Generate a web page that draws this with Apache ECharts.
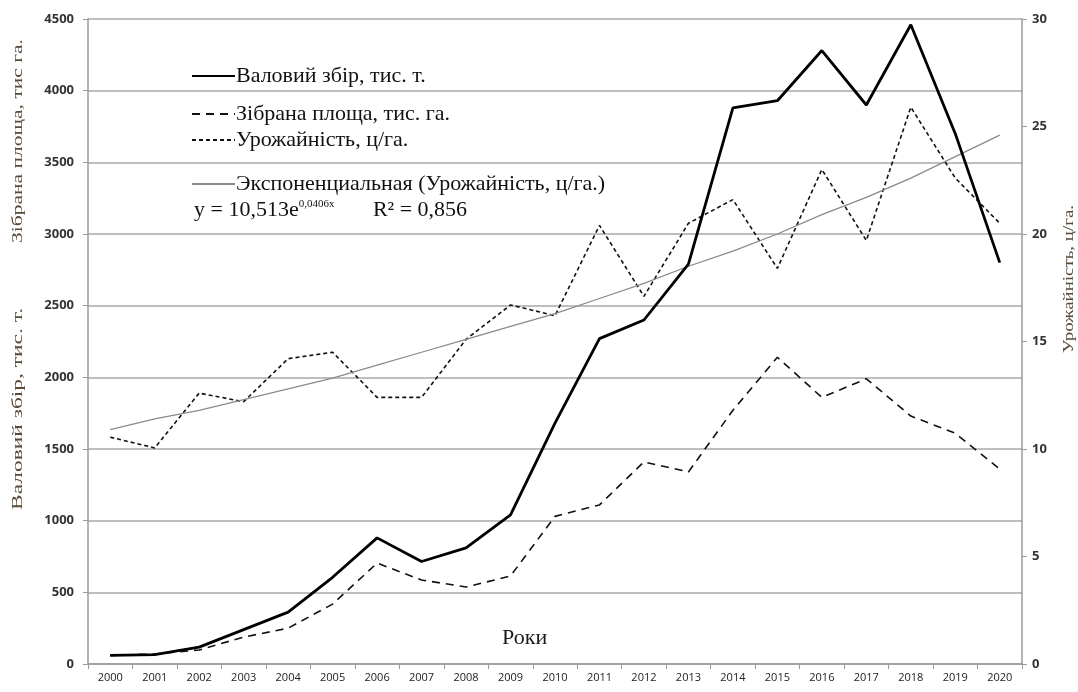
<!DOCTYPE html>
<html>
<head>
<meta charset="utf-8">
<script src="https://cdn.jsdelivr.net/npm/echarts@6/dist/echarts.min.js"></script>
<style>
  html, body { margin: 0; padding: 0; background: #fff; }
  #chart { width: 1078px; height: 692px; }
</style>
</head>
<body>
<div id="chart"></div>
<script>
// роки
var years = ['2000','2001','2002','2003','2004','2005','2006','2007','2008','2009','2010',
  '2011','2012','2013','2014','2015','2016','2017','2018','2019','2020'];
// валовий збір, тис. т.
var gross = [60, 65, 118, 240, 362, 605, 880, 715, 810, 1040, 1680,
  2270, 2400, 2790, 3880, 3930, 4280, 3900, 4460, 3700, 2800];
// зібрана площа, тис. га.
var area = [60, 70, 98, 188, 250, 418, 704, 586, 537, 614, 1030,
  1110, 1410, 1340, 1770, 2140, 1860, 1990, 1730, 1610, 1360];
// урожайність, ц/га.
var yieldV = [10.55, 10.05, 12.6, 12.2, 14.2, 14.5, 12.4, 12.4, 15.1, 16.7, 16.2,
  20.4, 17.1, 20.5, 21.6, 18.4, 23.0, 19.7, 25.9, 22.6, 20.5];
// експоненціальний тренд
var trend = [10.9, 11.4, 11.8, 12.3, 12.8, 13.3, 13.9, 14.5, 15.1, 15.7, 16.3,
  17.0, 17.7, 18.5, 19.2, 20.0, 20.9, 21.7, 22.6, 23.6, 24.6];
var leftTicks = [0, 4500, 500];
var rightTicks = [0, 30, 5];

var serif = '"Liberation Serif", "DejaVu Serif", serif';
var sans = '"Open Sans", "Liberation Sans", sans-serif';

var chart = echarts.init(document.getElementById('chart'));

// розтягнути підпис осі до потрібної довжини
var ctx = document.createElement('canvas').getContext('2d');
function stretch(text, size, target) {
  ctx.font = size + 'px "Liberation Serif"';
  return target / ctx.measureText(text).width;
}

function legendAt(name, top) {
  return {
    data: [name],
    left: 186,
    top: top,
    itemWidth: 43,
    itemHeight: 12,
    itemGap: 2,
    itemStyle: { color: 'rgba(0,0,0,0)', borderWidth: 0 },
    textStyle: { fontFamily: serif, fontSize: 22, color: '#111', padding: [0, 0, 0, -4] },
    selectedMode: false
  };
}

function axisTitle(text, x, y, len) {
  return {
    type: 'text', x: x, y: y, rotation: Math.PI / 2,
    scaleX: stretch(text, 14, len),
    style: { text: text, fontFamily: serif, fontSize: 14, fill: '#5a4a3a', align: 'center', verticalAlign: 'top' }
  };
}

chart.setOption({
  animation: false,
  backgroundColor: '#fff',
  //позиція сітки
  grid: { left: 88, right: 56, top: 19, bottom: 28 },
  legend: [
    legendAt('Валовий збір, тис. т.', 60),
    legendAt('Зібрана площа, тис. га.', 98),
    legendAt('Урожайність, ц/га.', 124),
    legendAt('Экспоненциальная (Урожайність, ц/га.)', 168)
  ],
  xAxis: {
    type: 'category',
    data: years,
    boundaryGap: true,
    axisLine: { lineStyle: { color: '#9a9a9a', width: 1.5 } },
    axisTick: { show: true, length: 5, lineStyle: { color: '#9a9a9a' } },
    axisLabel: { fontFamily: sans, fontSize: 11, color: '#222', margin: 8, interval: 0 }
  },
  yAxis: [
    {
      type: 'value',
      min: leftTicks[0], max: leftTicks[1], interval: leftTicks[2],
      axisLine: { show: true, lineStyle: { color: '#9a9a9a', width: 1.5 } },
      axisTick: { show: true, length: 5, lineStyle: { color: '#9a9a9a' } },
      axisLabel: { fontFamily: sans, fontSize: 13, fontWeight: 'bold', color: '#333', margin: 14,
        formatter: function (v) { return String(v); } },
      splitLine: { lineStyle: { color: '#a8a8a8', width: 1.5 } }
    },
    {
      type: 'value',
      position: 'right',
      min: rightTicks[0], max: rightTicks[1], interval: rightTicks[2],
      axisLine: { show: true, lineStyle: { color: '#9a9a9a', width: 1.5 } },
      axisTick: { show: true, length: 5, lineStyle: { color: '#9a9a9a' } },
      axisLabel: { fontFamily: sans, fontSize: 13, fontWeight: 'bold', color: '#333', margin: 10 },
      splitLine: { show: false }
    }
  ],
  series: [
    {
      name: 'Валовий збір, тис. т.',
      type: 'line',
      data: gross,
      yAxisIndex: 0,
      symbol: 'none',
      z: 5,
      lineStyle: { color: '#000', width: 2.8 },
      itemStyle: { color: '#000' }
    },
    {
      name: 'Зібрана площа, тис. га.',
      type: 'line',
      data: area,
      yAxisIndex: 0,
      symbol: 'none',
      lineStyle: { color: '#111', width: 1.6, type: [8, 6] },
      itemStyle: { color: '#111' }
    },
    {
      name: 'Урожайність, ц/га.',
      type: 'line',
      data: yieldV,
      yAxisIndex: 1,
      symbol: 'none',
      lineStyle: { color: '#111', width: 1.6, type: [4, 3] },
      itemStyle: { color: '#111' }
    },
    {
      name: 'Экспоненциальная (Урожайність, ц/га.)',
      type: 'line',
      data: trend,
      yAxisIndex: 1,
      symbol: 'none',
      lineStyle: { color: '#8a8a8a', width: 1.3 },
      itemStyle: { color: '#8a8a8a' }
    }
  ],
  graphic: [
    {
      type: 'text', left: 194, top: 199,
      style: {
        text: '{a|y = 10,513e}{s|0,0406x}{a|       R² = 0,856}',
        rich: {
          a: { fontFamily: serif, fontSize: 22, fill: '#111' },
          s: { fontFamily: serif, fontSize: 11, fill: '#111', verticalAlign: 'top', padding: [0, 0, 10, 0] }
        }
      }
    },
    {
      type: 'text', left: 502, top: 627,
      style: { text: 'Роки', fontFamily: serif, fontSize: 22, fill: '#1a1a1a' }
    },
    axisTitle('Зібрана площа, тис га.', 11, 141, 204),
    axisTitle('Валовий збір, тис. т.', 11, 409, 202),
    axisTitle('Урожайність, ц/га.', 1062, 279, 148)
  ]
});
</script>
</body>
</html>
